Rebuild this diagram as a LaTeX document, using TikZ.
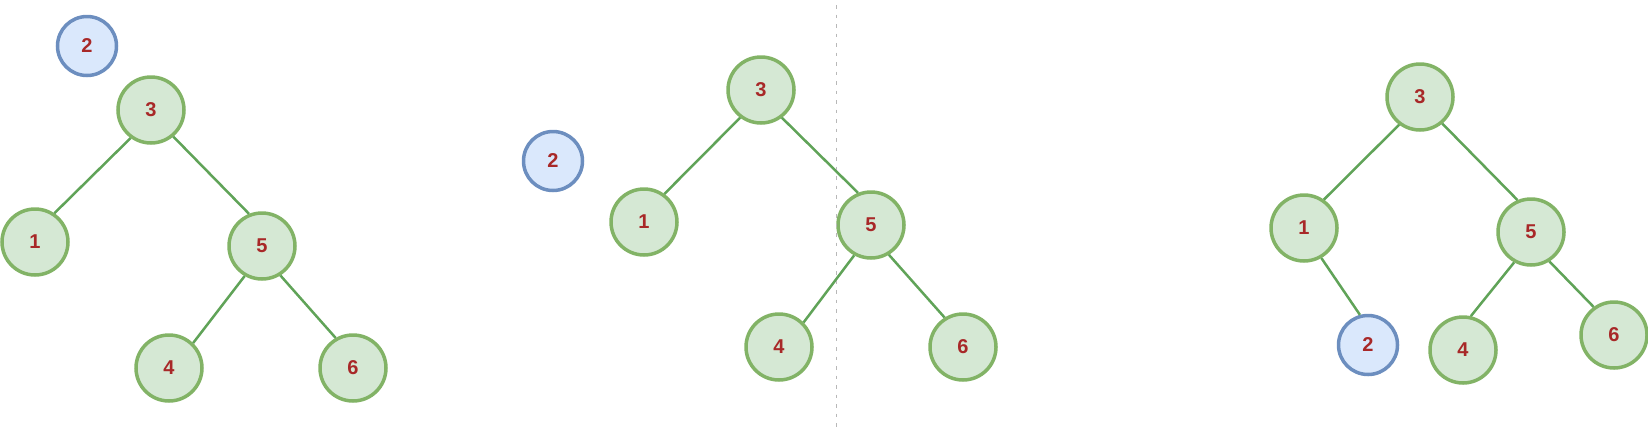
\documentclass[tikz,border=0pt]{standalone}
\usepackage{fontspec}
\setmainfont{Liberation Sans}
\usepackage{xcolor}
\usepackage{tikz}
\usetikzlibrary{positioning}

\definecolor{vertFond}{HTML}{D5E8D4}
\definecolor{vertBord}{HTML}{82B366}
\definecolor{bleuFond}{HTML}{DAE8FC}
\definecolor{bleuBord}{HTML}{6C8EBF}
\definecolor{texteRouge}{HTML}{A82828}
\definecolor{arete}{HTML}{60A358}
\definecolor{separation}{HTML}{B8B8B8}

\tikzset{
    noeud/.style={circle, draw=vertBord, fill=vertFond, line width=3.5pt, minimum size=66pt, inner sep=0pt, text=texteRouge, font=\fontsize{20}{20}\selectfont\bfseries},
    insere/.style={noeud, draw=bleuBord, fill=bleuFond, minimum size=59pt},
    lien/.style={draw=arete, line width=2.5pt},
}

\begin{document}
\begin{tikzpicture}[x=1pt, y=-1pt]
    \useasboundingbox (0,0) rectangle (1648,432);

    % Arbre 1 : avant insertion
    \node[insere] (a2) at (87,46) {2};
    \node[noeud] (a3) at (151,110) {3};
    \node[noeud] (a1) at (35,242) {1};
    \node[noeud] (a5) at (262,246) {5};
    \node[noeud] (a4) at (169,368) {4};
    \node[noeud] (a6) at (353,368) {6};
    \draw[lien] (a3.234) -- (a1.56);
    \draw[lien] (a3.310) -- (a5.112);
    \draw[lien] (a5.240) -- (a4.46);
    \draw[lien] (a5.302) -- (a6.120);

    % Arbre 2 : descente
    \node[insere] (b2) at (553,161) {2};
    \node[noeud] (b3) at (761,90) {3};
    \node[noeud] (b1) at (644,222) {1};
    \node[noeud] (b5) at (871,225) {5};
    \node[noeud] (b4) at (779,347) {4};
    \node[noeud] (b6) at (963,347) {6};
    \draw[lien] (b3.233) -- (b1.54);
    \draw[lien] (b3.307) -- (b5.112);
    \draw[lien] (b5.241) -- (b4.45);
    \draw[lien] (b5.301) -- (b6.122);

    % Separation
    \coordinate (sepHaut) at (836,5);
    \coordinate (sepBas) at (836,432);
    \draw[separation, line width=1pt, dash pattern=on 3.5pt off 6pt] (sepHaut) -- (sepBas);

    % Arbre 3 : apres insertion
    \node[noeud] (c3) at (1420,97) {3};
    \node[noeud] (c1) at (1304,228) {1};
    \node[noeud] (c5) at (1531,232) {5};
    \node[insere] (c2) at (1368,345) {2};
    \node[noeud] (c4) at (1463,350) {4};
    \node[noeud] (c6) at (1614,335) {6};
    \draw[lien] (c3.233) -- (c1.55);
    \draw[lien] (c3.310) -- (c5.113);
    \draw[lien] (c1.300) -- (c2.105);
    \draw[lien] (c5.241) -- (c4.77);
    \draw[lien] (c5.302) -- (c6.126);
\end{tikzpicture}
\end{document}
